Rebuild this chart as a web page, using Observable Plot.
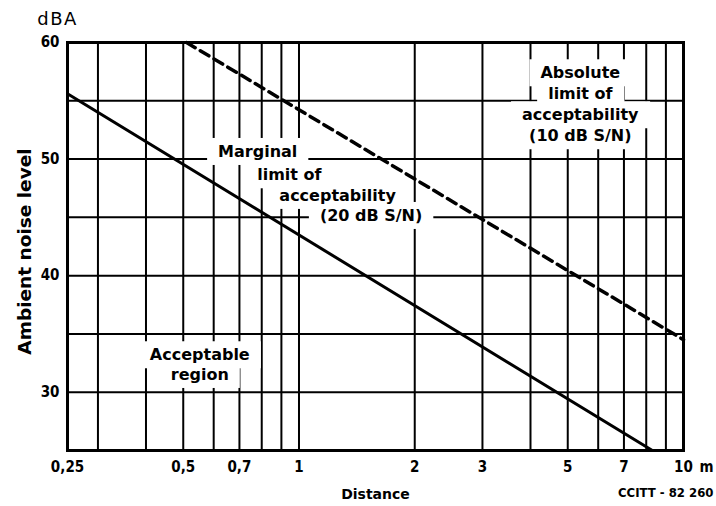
<!DOCTYPE html>
<html><head><meta charset="utf-8">
<script src="https://cdn.jsdelivr.net/npm/d3@7"></script>
<script src="https://cdn.jsdelivr.net/npm/@observablehq/plot@0.6"></script>
<style>
html,body{margin:0;padding:0;background:#fff;}
#chart svg{display:block;}
g[aria-description="unit"] text{letter-spacing:1.5px;}
</style></head><body><div id="chart"></div>
<script>
// Curves (distance in m, ambient noise level in dBA)
const solidDistance = [0.25, 8.3];
const solidLevel = [55.6, 25];
const dashedDistance = [0.51, 10];
const dashedLevel = [60, 34.5];

// Grid and ticks
const xGrid = [0.3, 0.4, 0.5, 0.6, 0.7, 0.8, 0.9, 1, 2, 3, 4, 5, 6, 7, 8, 9];
const yGrid = [30, 35, 40, 45, 50, 55];
const xTicks = [0.25, 0.5, 0.7, 1, 2, 3, 5, 7, 10];
const xTickLabels = ["0,25", "0,5", "0,7", "1", "2", "3", "5", "7", "10"];
const yTicks = [30, 40, 50, 60];

// Annotation lines
const labelText = ["Marginal", "limit of", "acceptability", "(20 dB S/N)",
                   "Absolute", "limit of", "acceptability", "(10 dB S/N)",
                   "Acceptable", "region"];
const labelDistance = [0.781, 0.944, 1.26, 1.54, 5.39, 5.39, 5.39, 5.39, 0.552, 0.552];
const labelLevel = [50.62, 48.62, 46.85, 45.13, 57.37, 55.63, 53.77, 51.97, 33.18, 31.49];

const solid = solidDistance.map((d, i) => ({d, L: solidLevel[i]}));
const dashed = dashedDistance.map((d, i) => ({d, L: dashedLevel[i]}));
const labels = labelText.map((t, i) => ({t, d: labelDistance[i], L: labelLevel[i]}));

const tickFont = {fontSize: 15, fontWeight: "bold", fontFamily: "DejaVu Sans Condensed"};

const chart = Plot.plot({
  width: 716, height: 506,
  marginLeft: 67, marginRight: 33, marginTop: 42, marginBottom: 56,
  style: {fontFamily: "DejaVu Sans", background: "#fff", color: "#000", overflow: "visible"},
  x: {type: "log", domain: [0.25, 10], axis: null},
  y: {domain: [25, 60], axis: null},
  marks: [
    Plot.ruleX(xGrid, {x: d => d, stroke: "#000", strokeWidth: 2}),
    Plot.ruleY(yGrid, {y: d => d, stroke: "#000", strokeWidth: 2}),
    Plot.frame({stroke: "#000", strokeWidth: 3}),
    Plot.text(labels, {x: "d", y: "L", text: "t", fontSize: 16, fontWeight: "bold", fill: "#000", ariaDescription: "annotation"}),
    Plot.line(solid, {x: "d", y: "L", stroke: "#000", strokeWidth: 3}),
    Plot.line(dashed, {x: "d", y: "L", stroke: "#000", strokeWidth: 3.5, strokeDasharray: "10,6"}),
    Plot.text(xTicks, {x: d => d, text: (d, i) => xTickLabels[i], frameAnchor: "bottom", lineAnchor: "top", textAnchor: "middle", dy: 11, fill: "#000", ...tickFont}),
    Plot.text(["m"], {frameAnchor: "bottom-right", lineAnchor: "top", textAnchor: "middle", dx: 23, dy: 11, fill: "#000", ...tickFont}),
    Plot.text(yTicks, {y: d => d, text: d => String(d), frameAnchor: "left", textAnchor: "end", lineAnchor: "middle", dx: -8, fill: "#000", ...tickFont}),
    Plot.text(["dBA"], {frameAnchor: "top-left", textAnchor: "middle", lineAnchor: "middle", dx: -10, dy: -23, fontSize: 18, fill: "#000", ariaDescription: "unit"}),
    Plot.text(["Ambient noise level"], {frameAnchor: "left", textAnchor: "middle", lineAnchor: "middle", rotate: -90, dx: -42, dy: 5, fontSize: 18.5, fontWeight: "bold", fill: "#000"}),
    Plot.text(["Distance"], {frameAnchor: "bottom", textAnchor: "middle", lineAnchor: "middle", dy: 44, fontSize: 14, fontWeight: "bold", fill: "#000"}),
    Plot.text(["CCITT - 82 260"], {frameAnchor: "bottom-right", textAnchor: "end", lineAnchor: "middle", dx: 30, dy: 42, fontSize: 13, fontWeight: "bold", fontFamily: "DejaVu Sans Condensed", fill: "#000"})
  ]
});
document.getElementById("chart").append(chart);

// White boxes behind annotation lines (sized from each rendered text line)
const ns = "http://www.w3.org/2000/svg";
chart.querySelectorAll('g[aria-description="annotation"]').forEach(g => {
  const texts = Array.from(g.querySelectorAll("text"));
  texts.forEach(t => {
    const b = t.getBBox();
    const r = document.createElementNS(ns, "rect");
    r.setAttribute("x", b.x - 11);
    r.setAttribute("y", b.y - 4);
    r.setAttribute("width", b.width + 22);
    r.setAttribute("height", b.height + 8);
    r.setAttribute("fill", "#fff");
    r.setAttribute("stroke", "none");
    const tr = t.getAttribute("transform");
    if (tr) r.setAttribute("transform", tr);
    g.insertBefore(r, g.firstChild);
  });
});
</script></body></html>
